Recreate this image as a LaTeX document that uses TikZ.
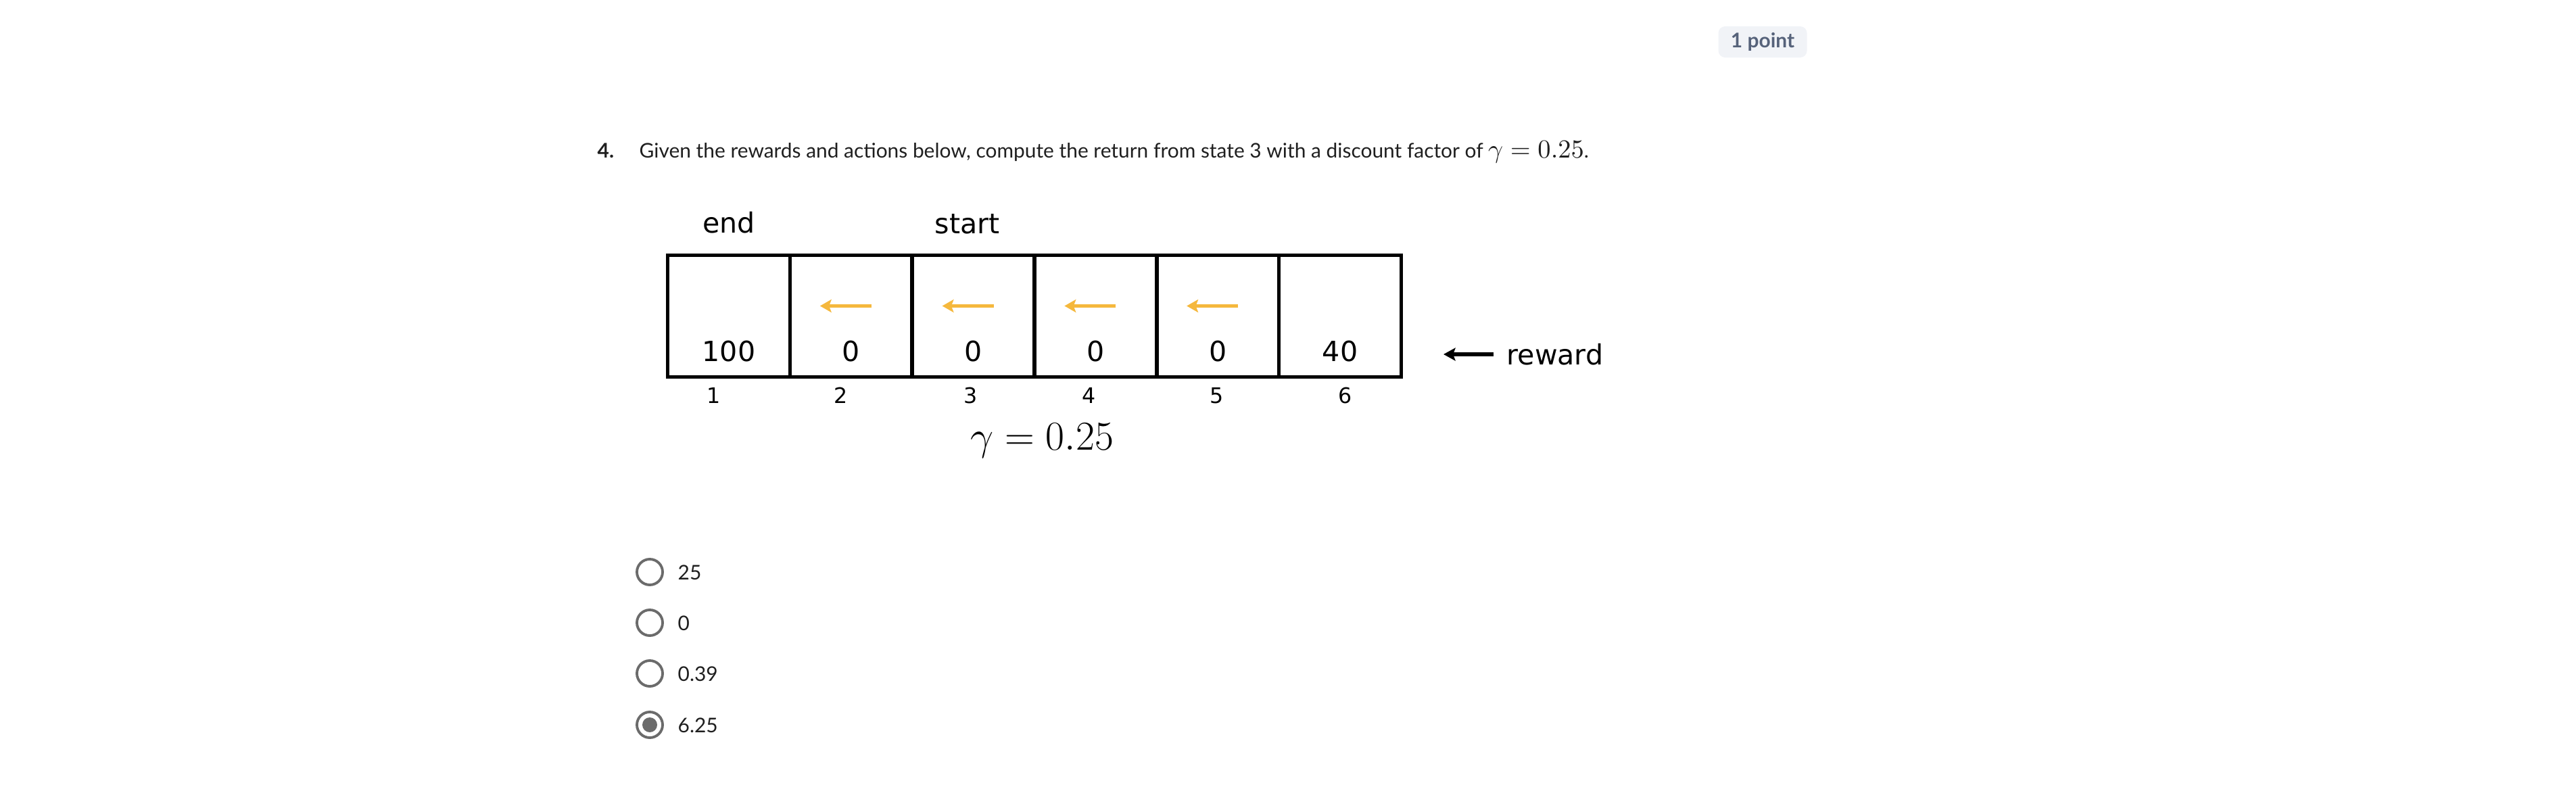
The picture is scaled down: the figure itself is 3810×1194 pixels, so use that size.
\documentclass[tikz,border=0pt]{standalone}
\usepackage{amsmath}
\usepackage{fontspec}
\setmainfont{Lato}
\newfontfamily\figfont{DejaVu Sans}
\usetikzlibrary{arrows.meta,positioning}

\definecolor{actgold}{HTML}{F5B83D}
\definecolor{radiogray}{HTML}{6B6B6B}
\definecolor{badgebg}{HTML}{F1F3F7}
\definecolor{badgetxt}{HTML}{56627A}
\definecolor{qtext}{HTML}{1F1F1F}

\begin{document}
\begin{tikzpicture}[
    x=0.01cm, y=-0.01cm,
    cell/.style={rectangle, draw, line width=1.6pt, minimum width=1.807cm, minimum height=1.8cm, inner sep=0pt, outer sep=0pt},
    txt/.style={inner sep=0pt, text=qtext, font=\fontsize{8.5}{10}\selectfont},
    fig/.style={inner sep=0pt, font=\figfont\fontsize{11.7}{14}\selectfont},
    idx/.style={inner sep=0pt, font=\figfont\fontsize{9}{11}\selectfont},
    badge/.style={fill=badgebg, rounded corners=0.1cm, minimum width=1.31cm, minimum height=0.46cm, inner sep=0pt, text=badgetxt, font=\bfseries\fontsize{8.5}{10}\selectfont},
    radio/.style={circle, draw=radiogray, line width=1.1pt, minimum size=0.38cm, inner sep=0pt},
    act/.style={actgold, line width=1.7pt, -{Stealth[width=5.4pt,length=4.8pt,inset=1pt]}},
    arrow/.style={line width=1.5pt, -{Stealth[width=5.4pt,length=5pt,inset=1pt]}}
]
\useasboundingbox (0,0) rectangle (3810,1194);

% Header
\node[badge] (pts) at (2607,62) {1 point};
\node[txt, anchor=base west, font=\bfseries\fontsize{8.5}{10}\selectfont] (qnum) at (883,233) {4.};
\node[txt, anchor=base west] (question) at (945,233) {Given the rewards and actions below, compute the return from state 3 with a discount factor of {\fontsize{10.6}{12}\selectfont$\gamma = 0.25$}.};

% Cells
\node[cell] (c1) at (1078,467.5) {};
\foreach \i/\j in {2/1,3/2,4/3,5/4,6/5}
    \node[cell, right=0pt of c\j] (c\i) {};

% Rewards and state numbers
\foreach \i/\rw/\dx in {1/100/-0.22,2/0/-0.15,3/0/-0.04,4/0/-0.1,5/0/-0.02,6/40/0.08} {
    \node[fig, anchor=base] (r\i) at ([yshift=0.23cm]c\i.south) {\rw};
    \node[idx, anchor=base] (s\i) at ([xshift=\dx cm,yshift=-0.39cm]c\i.south) {\i};
}
\node[fig, anchor=base] (endlbl) at ([yshift=0.33cm]c1.north) {end};
\node[fig, anchor=base] (startlbl) at ([xshift=-0.09cm,yshift=0.32cm]c3.north) {start};
\node[anchor=base, font=\fontsize{17.5}{20}\selectfont] (gamma) at (1541,665) {$\gamma = 0.25$};

% Actions
\foreach \i in {2,...,5}
    \draw[act] ([xshift=0.3cm,yshift=0.15cm]c\i.center) -- ([xshift=-0.46cm,yshift=0.15cm]c\i.center);

% Reward pointer
\node[fig, anchor=west] (reward) at (2228,524) {reward};
\coordinate (rtip) at (2135,524);
\draw[arrow, shorten <=0.19cm] (reward.west) -- (rtip);

% Options
\foreach \i/\opt/\yy in {1/25/846,2/0/921,3/0.39/996,4/6.25/1072} {
    \node[radio] (o\i) at (961,\yy) {};
    \node[txt, anchor=base west] (a\i) at ([xshift=0.41cm,yshift=-0.11cm]o\i.center) {\opt};
}
\fill[radiogray] (o4.center) circle (0.11cm);
\end{tikzpicture}
\end{document}
